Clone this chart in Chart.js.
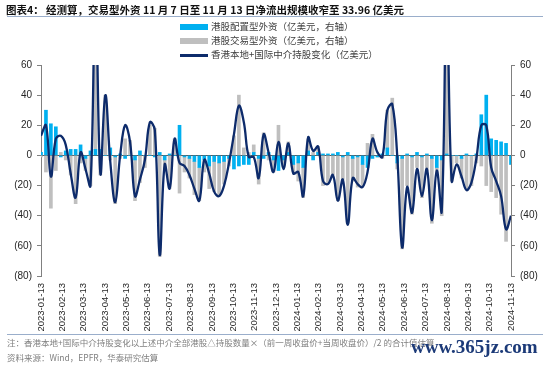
<!DOCTYPE html>
<html>
<head>
<meta charset="utf-8">
<script src="https://cdn.jsdelivr.net/npm/chart.js@4.4.1/dist/chart.umd.min.js"></script>
<style>
  body { margin: 0; width: 550px; height: 366px; position: relative; overflow: hidden; background: #fff;
         font-family: "Noto Sans CJK SC", "Liberation Sans", sans-serif; }
  #c { position: absolute; left: 0; top: 0; }
  .title { position: absolute; left: 6px; top: 2px; font-size: 10.5px; font-weight: bold; color: #111; white-space: nowrap; }
  .rule { position: absolute; left: 7px; width: 536px; height: 1px; background: #9aaecb; }
  .legend { position: absolute; left: 180px; top: 19px; font-size: 9.5px; color: #404040; }
  .legend div { height: 14px; line-height: 14px; white-space: nowrap; }
  .legend span { display: inline-block; width: 28px; margin-right: 3px; vertical-align: middle; }
  .note { position: absolute; left: 7px; font-size: 8.5px; color: #808080; white-space: nowrap; }
  .mark { position: absolute; left: 411px; top: 336px; font: bold 19px "Liberation Serif", serif; color: #1c3a78; }
</style>
</head>
<body>
<canvas id="c" width="550" height="366"></canvas>
<div class="title">图表4：  经测算，交易型外资 11 月 7 日至 11 月 13 日净流出规模收窄至 33.96 亿美元</div>
<div class="rule" style="top:16px"></div>
<div class="legend" id="legend"></div>
<div class="rule" style="top:334px"></div>
<div class="note" style="top:336px">注：香港本地+国际中介持股变化以上述中介全部港股△持股数量×（前一周收盘价+当周收盘价）/2 的合计值估算</div>
<div class="note" style="top:351px">资料来源：Wind，EPFR，华泰研究估算</div>
<div class="mark">www.365jz.com</div>
<script>
// x-axis tick labels (monthly)
const tickLabels = ['2023-01-13', '2023-02-13', '2023-03-13', '2023-04-13', '2023-05-13', '2023-06-13',
  '2023-07-13', '2023-08-13', '2023-09-13', '2023-10-13', '2023-11-13', '2023-12-13',
  '2024-01-13', '2024-02-13', '2024-03-13', '2024-04-13', '2024-05-13', '2024-06-13',
  '2024-07-13', '2024-08-13', '2024-09-13', '2024-10-13', '2024-11-13']

const seriesNames = ['港股配置型外资（亿美元，右轴）', '港股交易型外资（亿美元，右轴）', '香港本地+国际中介持股变化（亿美元）']
const seriesColors = ['#00B0F0', '#BFBFBF', '#0D2B6B']

// weekly values, 亿美元
const allocFlow = [2, 30, 21, 19, -1, 3, 4, 4, 7, -2, 3, 4, 4, 0, 5, -1, 1, -2, 0, -3,
  3, 0, 0, -1, 2, -3, 1, 0, 20, -1, -2, -4, -8, -3, -7, -4, -5, -4, -2, -9,
  -7, -6, -6, 2, -2, -2, 2, -3, -10, -3, 2, -6, -5, -8, 3, -3, 2, 1, 1, 1,
  2, -1, 2, -2, -1, -6, -8, -2, -1, 1, 5, 0, -5, -2, 1, -1, 2, -1, 1, -2,
  -8, -3, 1, 0, 0, -2, 1, 0, 1, 27, 40, 11, 10, 9, 8, -6]

const tradeFlow = [-1, -11, -35, -10, 2, -3, -13, -32, -5, -8, -20, 100, -13, 40, -3, -31, -2, 11, 10, -27,
  -18, -8, 20, 18, -67, -6, -22, 11, -25, -10, -13, -22, -22, -8, -15, -20, -22, -15, -5, 13,
  40, 5, 2, 5, -17, 15, -3, -8, 20, -5, 7, -5, -12, -20, 8, 2, 4, -20, -18, -13,
  -30, -15, -45, -15, -20, -14, 8, 14, 0, -2, 25, 38, -4, -60, -20, -38, -8, -27, -10, -43,
  -5, -37, 95, -17, -5, -13, -22, -20, -5, -7, -20, -24, -28, -39, -57, 0]

const brokerChange = [13, 20, -14, 11, 13, 7, -12, -28, 2, -9, -20, 110, -12, 40, -4, -31, 0, 20, 9, -27,
  -16, -3, 22, 17, -66, -6, -22, 11, -5, -7, -13, -22, -30, -3, -12, -24, -27, -20, -5, 14,
  33, 22, -1, -1, -15, 14, 2, -11, 9, -9, 8, -12, -11, -27, 12, 3, 6, -17, -19, -13,
  -30, -16, -46, -15, -19, -21, -11, 11, 2, -1, 30, 34, 0, -61, -21, -38, -9, -27, -9, -43,
  -10, -37, 110, -17, -6, -14, -23, -18, -2, 20, 20, -8, -17, -27, -49, -40]

const lastIdx = brokerChange.length - 1
const tickPos = tickLabels.map((_, k) => k * lastIdx / (tickLabels.length - 1))
const pts = arr => arr.map((v, i) => ({ x: i, y: v }))
const fmt = v => v < 0 ? '(' + (-v) + ')' : String(v)

// legend
let legend = document.querySelector('#legend')
seriesNames.forEach((name, i) => {
    let sw = i < 2
        ? `<span style="height:6px;background:${seriesColors[i]}"></span>`
        : `<span style="height:2.5px;background:${seriesColors[i]}"></span>`
    legend.innerHTML += `<div>${sw}${name}</div>`
})

const axisFont = { family: 'Liberation Sans', size: 10 }
const yTicks = { stepSize: 20, padding: 5, color: '#262626', font: axisFont, callback: fmt }

let ctx = document.querySelector('#c').getContext('2d')
let myChart = new Chart(ctx, {
    data: {
        datasets: [{
            type: 'bar',
            label: seriesNames[0],
            data: pts(allocFlow),
            backgroundColor: seriesColors[0],
            yAxisID: 'y1',
            stack: 'flow',
            barThickness: 3,
            order: 1
        }, {
            type: 'bar',
            label: seriesNames[1],
            data: pts(tradeFlow),
            backgroundColor: seriesColors[1],
            yAxisID: 'y1',
            stack: 'flow',
            barThickness: 3,
            order: 1
        }, {
            type: 'line',
            label: seriesNames[2],
            data: pts(brokerChange),
            borderColor: seriesColors[2],
            borderWidth: 2.3,
            pointRadius: 0,
            tension: 0.4,
            yAxisID: 'y',
            order: 0
        }]
    },
    options: {
        responsive: false,
        animation: false,
        devicePixelRatio: 1,
        layout: { padding: { top: 65, bottom: 31, left: 0, right: 0 } },
        plugins: {
            legend: { display: false },
            tooltip: { enabled: false }
        },
        scales: {
            x: {
                type: 'linear',
                min: 0,
                max: lastIdx,
                offset: false,
                stacked: true,
                grid: { display: false, drawTicks: false, offset: false },
                border: { display: false },
                afterBuildTicks: s => { s.ticks = tickPos.map(v => ({ value: v })) },
                afterFit: s => { s.height = 59 },
                ticks: {
                    autoSkip: false,
                    maxRotation: 90,
                    minRotation: 90,
                    padding: 7,
                    color: '#262626',
                    font: { family: 'Liberation Sans', size: 9.5 },
                    callback: (v, i) => tickLabels[i]
                }
            },
            y: {
                position: 'left',
                min: -80,
                max: 60,
                ticks: yTicks,
                grid: {
                    color: c => c.tick && c.tick.value === 0 ? '#595959' : 'rgba(0,0,0,0)',
                    tickColor: '#808080',
                    tickLength: 4
                },
                border: { color: '#808080' },
                afterFit: s => { s.width = 41 }
            },
            y1: {
                position: 'right',
                stacked: true,
                min: -80,
                max: 60,
                ticks: yTicks,
                grid: { drawOnChartArea: false, tickColor: '#808080', tickLength: 4 },
                border: { color: '#808080' },
                afterFit: s => { s.width = 39 }
            }
        }
    }
})
</script>
</body>
</html>
